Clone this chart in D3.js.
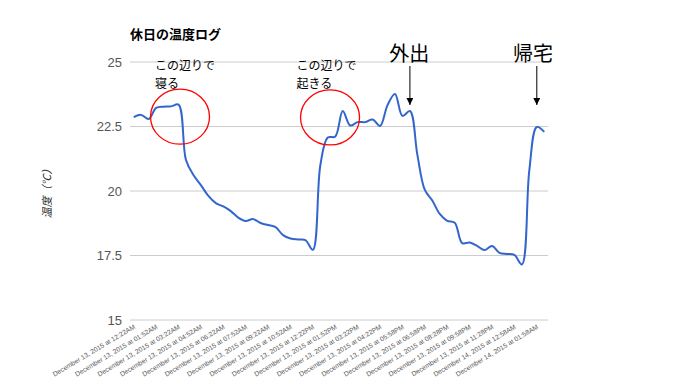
<!DOCTYPE html>
<html>
<head>
<meta charset="utf-8">
<script src="https://cdn.jsdelivr.net/npm/d3@7"></script>
<style>
  body { margin: 0; background: #fff; }
  text { font-family: "Liberation Sans", Arial, "Noto Sans CJK JP", sans-serif; }
  .jp { font-family: "Noto Sans CJK JP", sans-serif; }
</style>
</head>
<body>
<svg width="678" height="381"></svg>
<script>
// tick labels shown on the x axis (every 3rd logged reading)
var tickLabels = [
  "December 13, 2015 at 12:22AM", "December 13, 2015 at 01:52AM", "December 13, 2015 at 03:22AM",
  "December 13, 2015 at 04:52AM", "December 13, 2015 at 06:22AM", "December 13, 2015 at 07:52AM",
  "December 13, 2015 at 09:22AM", "December 13, 2015 at 10:52AM", "December 13, 2015 at 12:22PM",
  "December 13, 2015 at 01:52PM", "December 13, 2015 at 03:22PM", "December 13, 2015 at 04:22PM",
  "December 13, 2015 at 05:58PM", "December 13, 2015 at 06:58PM", "December 13, 2015 at 08:28PM",
  "December 13, 2015 at 09:58PM", "December 13, 2015 at 11:28PM", "December 14, 2015 at 12:58AM",
  "December 14, 2015 at 01:58AM"
];

// temperature readings (℃), one per logged row
var temps = [
  22.86, 22.95, 22.79, 23.22, 23.27, 23.28, 23.35, 21.2, 20.62, 20.23,
  19.81, 19.53, 19.40, 19.22, 18.97, 18.84, 18.91, 18.76, 18.68, 18.60,
  18.29, 18.16, 18.12, 18.10, 17.72, 21.0, 22.07, 22.11, 23.10, 22.54,
  22.67, 22.67, 22.77, 22.52, 23.33, 23.76, 22.91, 23.10, 21.4, 20.04,
  19.63, 19.11, 18.84, 18.77, 17.98, 18.0, 17.87, 17.71, 17.87, 17.60,
  17.56, 17.52, 17.15, 20.81, 22.48, 22.29
];

var yTicks = [15, 17.5, 20, 22.5, 25];

var labelEvery = 3;

var svg = d3.select("svg");

var margins = {left: 130, right: 130, top: 62, bottom: 61};
var width = 678 - margins.left - margins.right;
var height = 381 - margins.top - margins.bottom;

var n = temps.length;
var step = width / n;

var xScale = d3.scaleLinear()
  .domain([0, n - 1])
  .range([margins.left + step / 2, margins.left + width - step / 2]);

var yScale = d3.scaleLinear()
  .domain([15, 25])
  .range([margins.top + height, margins.top]);

// title
svg.append("text")
  .attr("x", margins.left)
  .attr("y", 39)
  .attr("font-size", 13)
  .attr("font-weight", "bold")
  .attr("fill", "#000")
  .text("休日の温度ログ");

// gridlines + y labels
var grid = svg.append("g");
grid.selectAll("line")
  .data(yTicks)
  .enter()
  .append("line")
  .attr("x1", margins.left)
  .attr("x2", margins.left + width)
  .attr("y1", function(d) { return yScale(d); })
  .attr("y2", function(d) { return yScale(d); })
  .attr("stroke", "#cccccc")
  .attr("stroke-width", 1);

grid.selectAll("text")
  .data(yTicks)
  .enter()
  .append("text")
  .attr("x", margins.left - 8)
  .attr("y", function(d) { return yScale(d); })
  .attr("dy", "0.35em")
  .attr("text-anchor", "end")
  .attr("font-size", 13)
  .attr("fill", "#555")
  .text(function(d) { return d; });

// y axis title
svg.append("text")
  .attr("transform", "translate(51," + (margins.top + height / 2) + ") rotate(-90)")
  .attr("text-anchor", "middle")
  .attr("font-size", 11)
  .attr("font-style", "italic")
  .attr("fill", "#333")
  .text("温度（℃）");

// x tick labels
svg.append("g")
  .selectAll("text")
  .data(tickLabels)
  .enter()
  .append("text")
  .attr("transform", function(d, i) {
    return "translate(" + (xScale(i * labelEvery) + 2) + "," + 328 + ") rotate(-31)";
  })
  .attr("text-anchor", "end")
  .attr("font-size", 6.7)
  .attr("fill", "#555")
  .text(function(d) { return d; });

// line
var line = d3.line()
  .x(function(d, i) { return xScale(i); })
  .y(function(d) { return yScale(d); })
  .curve(d3.curveCatmullRom.alpha(0.5));

svg.append("path")
  .datum(temps)
  .attr("d", line)
  .attr("fill", "none")
  .attr("stroke", "#3366cc")
  .attr("stroke-width", 2);

// annotations
var notes = [
  {lines: ["この辺りで", "寝る"], at: 2.85, circle: 6.2, cv: 22.88},
  {lines: ["この辺りで", "起きる"], at: 21.8, circle: 26.3, cv: 22.85}
];

var ann = svg.append("g").attr("class", "jp");

notes.forEach(function(nt) {
  nt.lines.forEach(function(l, j) {
    ann.append("text")
      .attr("x", xScale(nt.at))
      .attr("y", 70 + j * 17.5)
      .attr("font-size", 12)
      .attr("class", "jp")
      .attr("fill", "#000")
      .text(l);
  });
  ann.append("ellipse")
    .attr("cx", xScale(nt.circle))
    .attr("cy", yScale(nt.cv))
    .attr("rx", 29.5)
    .attr("ry", 27.5)
    .attr("fill", "none")
    .attr("stroke", "#ff0000")
    .attr("stroke-width", 1.3);
});

var arrows = [
  {label: "外出", idx: 37, textIdx: 36.9},
  {label: "帰宅", idx: 54, textIdx: 53.5}
];

svg.append("defs").append("marker")
  .attr("id", "arr")
  .attr("viewBox", "0 0 10 10")
  .attr("refX", 10)
  .attr("refY", 5)
  .attr("markerWidth", 7)
  .attr("markerHeight", 7)
  .attr("markerUnits", "userSpaceOnUse")
  .attr("orient", "auto")
  .append("path")
  .attr("d", "M0,0L10,5L0,10Z")
  .attr("fill", "#000");

arrows.forEach(function(a) {
  ann.append("text")
    .attr("x", xScale(a.textIdx))
    .attr("y", 61)
    .attr("text-anchor", "middle")
    .attr("font-size", 20)
    .attr("class", "jp")
    .attr("fill", "#000")
    .text(a.label);
  ann.append("line")
    .attr("x1", xScale(a.idx))
    .attr("x2", xScale(a.idx))
    .attr("y1", 66)
    .attr("y2", 105)
    .attr("stroke", "#000")
    .attr("stroke-width", 1)
    .attr("marker-end", "url(#arr)");
});
</script>
</body>
</html>
